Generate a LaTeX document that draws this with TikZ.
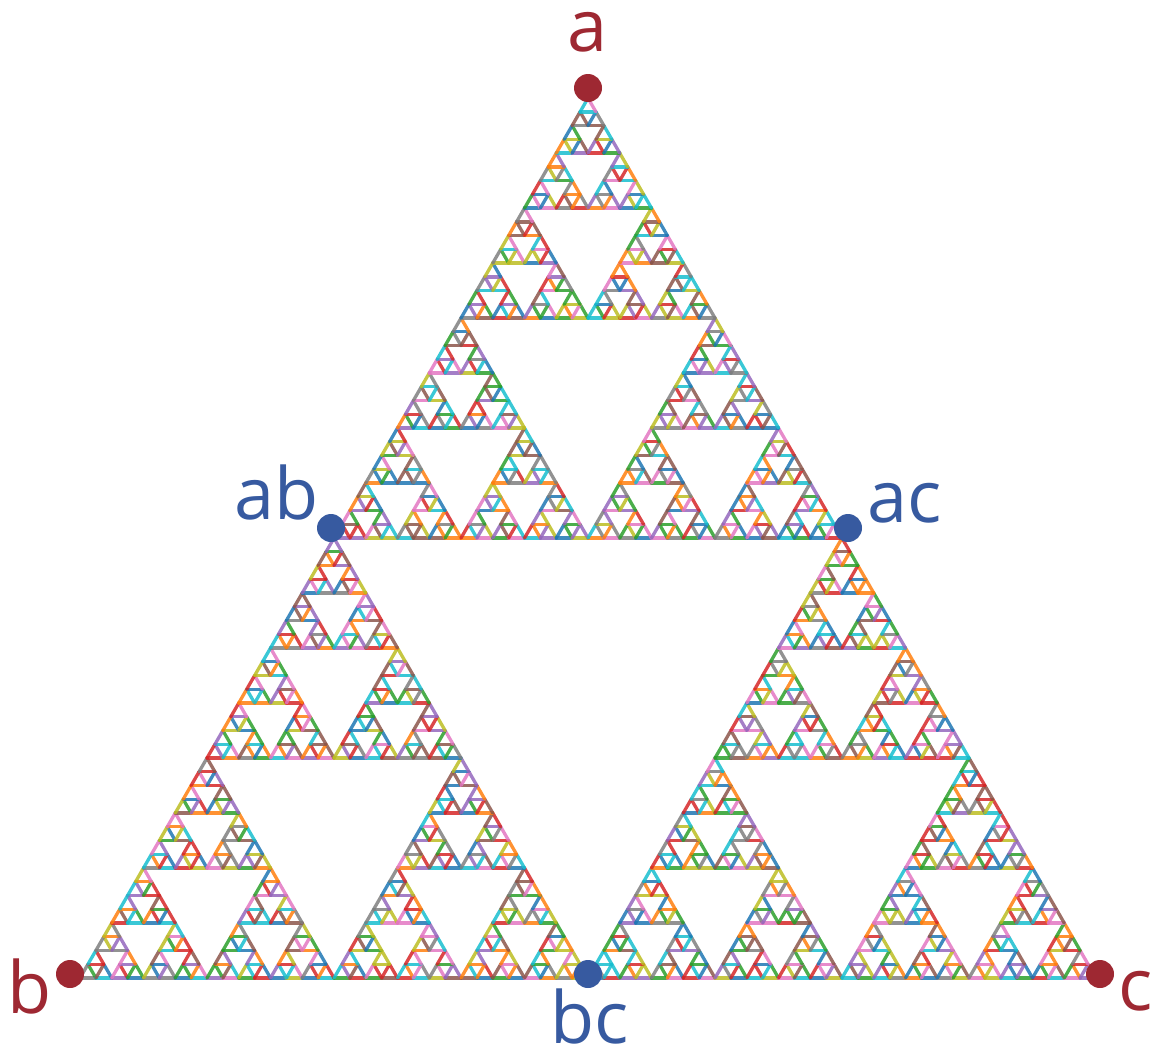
\documentclass[tikz,border=0pt]{standalone}
\usepackage{fontspec}
\setmainfont{Open Sans}
\definecolor{t0}{HTML}{1F77B4}
\definecolor{t1}{HTML}{FF7F0E}
\definecolor{t2}{HTML}{2CA02C}
\definecolor{t3}{HTML}{D62728}
\definecolor{t4}{HTML}{9467BD}
\definecolor{t5}{HTML}{8C564B}
\definecolor{t6}{HTML}{E377C2}
\definecolor{t7}{HTML}{7F7F7F}
\definecolor{t8}{HTML}{BCBD22}
\definecolor{t9}{HTML}{17BECF}
\definecolor{vred}{RGB}{158,40,50}
\definecolor{vblue}{RGB}{55,90,160}
\tikzset{
  seg/.style={line width=3.3pt, line cap=round, opacity=0.85},
  vdot/.style={circle, inner sep=0pt, minimum size=28pt},
  lbl/.style={font=\fontsize{72}{86}\selectfont, inner sep=0pt, anchor=base, text depth=0pt},
}
\newcommand\colseg[2]{%
  \pgfmathrandominteger\myci{0}{9}%
  \draw[seg, t\myci] #1 -- #2;}
\newcommand\drawtri[2]{%
  \colseg{(#1,#2)}{(\the\numexpr#1+1\relax,#2)}%
  \colseg{(\the\numexpr#1+1\relax,#2)}{(#1,\the\numexpr#2+1\relax)}%
  \colseg{(#1,\the\numexpr#2+1\relax)}{(#1,#2)}}
\newcommand\sierp[3]{%
  \ifnum#1=1 \drawtri{#2}{#3}%
  \else
    \expandafter\sierpB\expandafter{\the\numexpr#1/2\relax}{#2}{#3}%
  \fi}
\newcommand\sierpB[3]{%
  \sierp{#1}{#2}{#3}%
  \edef\mytmp{\noexpand\sierp{#1}{\the\numexpr#2+#1\relax}{#3}}\mytmp
  \edef\mytmp{\noexpand\sierp{#1}{#2}{\the\numexpr#3+#1\relax}}\mytmp}
\begin{document}
\begin{tikzpicture}[x=1pt,y=-1pt]
\useasboundingbox (0,0) rectangle (1153,1055);
\pgfmathsetseed{7}
\begin{scope}[shift={(80,978)}]
\begin{scope}[x={(15.875pt,0pt)}, y={(7.9375pt,13.748pt)}]
\sierp{64}{0}{0}
\end{scope}
\end{scope}
\node[vdot, fill=vred] (a) at (588,88) {};
\node[vdot, fill=vred] (b) at (70,974) {};
\node[vdot, fill=vred] (c) at (1100,974) {};
\node[vdot, fill=vblue] (ab) at (331,528) {};
\node[vdot, fill=vblue] (ac) at (848,528) {};
\node[vdot, fill=vblue] (bc) at (588,974) {};
\node[lbl, text=vred, text height=40pt] (la) at (588,51) {a};
\node[lbl, text=vred] (lb) at (30,1013) {b};
\node[lbl, text=vred] (lc) at (1136,1010) {c};
\node[lbl, text=vblue] (lab) at (277,519) {ab};
\node[lbl, text=vblue] (lac) at (905,522) {ac};
\node[lbl, text=vblue] (lbc) at (590,1043) {bc};
\end{tikzpicture}
\end{document}
